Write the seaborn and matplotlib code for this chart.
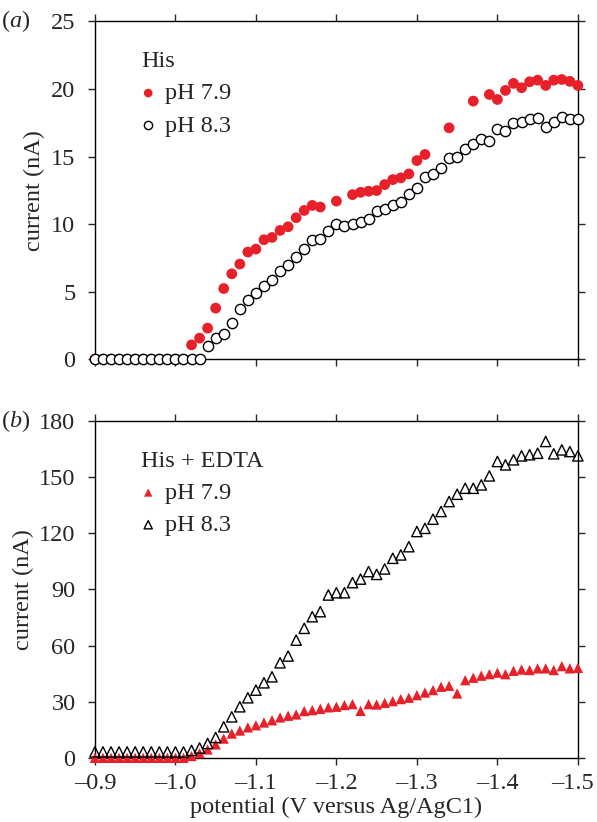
import numpy as np
import matplotlib
matplotlib.use('Agg')
import matplotlib.pyplot as plt
import matplotlib.transforms as mtransforms
import seaborn as sns

nan = np.nan

# potential grid (V versus Ag/AgCl), 10 mV steps
potential = np.round(np.arange(-0.90, -1.505, -0.01), 2)

# (a) His, current in nA
his_79 = [0, 0, 0, 0, 0, 0, 0, 0, 0, 0, 0, 0,
          1.06, 1.56, 2.3, 3.78, 5.23, 6.32, 7.04, 7.93, 8.15, 8.84,
          9.01, 9.53, 9.80, 10.47, 11.01, 11.38, 11.26, nan, 11.7, nan,
          12.18, 12.35, 12.43, 12.48, 12.92, 13.29, 13.42, 13.71, 14.70, 15.15,
          nan, nan, 17.12, nan, nan, 19.10, nan, 19.59, 19.22, 19.89,
          20.41, 20.09, 20.53, 20.65, 20.26, 20.65, 20.70, 20.56, 20.26]
his_83 = [0, 0, 0, 0, 0, 0, 0, 0, 0, 0, 0, 0, 0, 0,
          1.01, 1.60, 1.90, 2.67, 3.73, 4.40, 4.89, 5.41, 5.88, 6.54,
          6.99, 7.53, 8.12, 8.81, 8.86, 9.48, 10.02, 9.88, 10.03, 10.15,
          10.40, 10.94, 11.14, 11.42, 11.64, 12.23, 12.68, 13.49, 13.74, 14.16,
          14.90, 14.95, 15.52, 15.89, 16.26, 16.13, 17.07, 16.92, 17.49, 17.54,
          17.74, 17.86, 17.17, 17.54, 17.91, 17.81, 17.74]

# (b) His + EDTA, current in nA
edta_79 = [0, 0, 0, 0, 0, 0, 0, 0, 0, 0, 0, 0,
           1.0, 2.5, 4.5, 7.2, 10.3, 13.0, 14.6, 16.3, 17.4, 18.9,
           20.1, 21.6, 22.5, 23.2, 25.0, 25.5, 26.2, 27.0, 27.3, 28.2,
           28.7, 25.1, 28.7, 28.5, 29.4, 30.3, 31.4, 32.1, 33.5, 34.9,
           36.2, 38.0, 38.5, 34.4, 41.5, 42.8, 43.9, 44.7, 45.5, 44.7,
           46.5, 47.2, 46.9, 47.8, 47.8, 46.9, 49.0, 47.8, 48.1]
edta_83 = [3.2, 3.2, 3.2, 3.2, 3.2, 3.2, 3.2, 3.2, 3.2, 3.2, 3.2, 3.2,
           4.0, 5.3, 7.7, 10.9, 16.6, 21.9, 27.3, 32.1, 36.2, 40.1,
           43.3, 50.8, 54.4, 62.9, 69.2, 75.4, 78.1, 87.0, 88.2, 88.2,
           93.6, 95.5, 99.5, 98.0, 100.9, 106.6, 108.4, 112.8, 120.9, 122.6,
           127.5, 131.6, 136.9, 140.8, 144.0, 144.0, 145.8, 150.6, 158.3, 156.5,
           159.2, 161.3, 161.9, 162.7, 169.0, 162.4, 164.5, 163.6, 161.3]

x_ticks = [-0.9, -1.0, -1.1, -1.2, -1.3, -1.4, -1.5]
x_labels = ['\u20130.9', '\u20131.0', '\u20131.1', '\u20131.2',
            '\u20131.3', '\u20131.4', '\u20131.5']
red = '#e8202a'
fs = 17.5

sns.set_style('ticks')
plt.rcParams['font.family'] = ['Liberation Serif', 'DejaVu Serif']
plt.rcParams['mathtext.fontset'] = 'custom'
plt.rcParams['mathtext.rm'] = 'Liberation Serif'
plt.rcParams['mathtext.it'] = 'Liberation Serif:italic'
plt.rcParams['font.size'] = fs
plt.rcParams['axes.linewidth'] = 1.0

fig = plt.figure(figsize=(5.97, 8.22), dpi=100)
ax1 = fig.add_axes([0.159, 0.563, 0.809, 0.411])
ax2 = fig.add_axes([0.159, 0.078, 0.809, 0.410])

# top panel
sns.scatterplot(x=potential, y=his_79, ax=ax1, marker='o', color=red,
                s=60, edgecolor='none', label='pH 7.9', clip_on=False, zorder=3)
sns.scatterplot(x=potential, y=his_83, ax=ax1, marker='o', facecolors='white',
                edgecolor='black', linewidth=1.0, s=55, label='pH 8.3',
                clip_on=False, zorder=4)
ax1.set_ylim(0, 25)
ax1.set_yticks([0, 5, 10, 15, 20, 25])
ax1.set_ylabel('current (nA)', fontsize=fs, labelpad=4)

# bottom panel
sns.scatterplot(x=potential, y=edta_79, ax=ax2, marker='^', color=red,
                s=55, edgecolor='none', label='pH 7.9', clip_on=False, zorder=3)
sns.scatterplot(x=potential, y=edta_83, ax=ax2, marker='^', facecolors='none',
                edgecolor='black', linewidth=1.0, s=55, label='pH 8.3',
                clip_on=False, zorder=4)
ax2.set_ylim(0, 180)
ax2.set_yticks([0, 30, 60, 90, 120, 150, 180])
ax2.set_ylabel('current (nA)', fontsize=fs, labelpad=4)
ax2.set_xlabel('potential (V versus Ag/AgC1)', fontsize=fs, labelpad=2)

for ax, title, tag in [(ax1, 'His', r'($\mathit{a}$)'),
                       (ax2, 'His + EDTA', r'($\mathit{b}$)')]:
    ax.set_xlim(-0.9, -1.5)
    ax.set_xticks(x_ticks)
    ax.tick_params(direction='out', top=True, right=True, length=5,
                   width=1.0, labelsize=fs)
    ax.tick_params(axis='y', pad=9)
    ax.tick_params(axis='x', pad=6)
    for sp in ax.spines.values():
        sp.set_visible(True)
        sp.set_color('black')
    ax.legend(title=title, loc='upper left', bbox_to_anchor=(0.06, 0.962),
              frameon=False, handlelength=0.6, handletextpad=0.4,
              labelspacing=0.42, markerscale=0.8, fontsize=fs,
              title_fontsize=fs, alignment='left', borderpad=0.2)
    ax.text(-0.165, 1.0, tag, transform=ax.transAxes, ha='center',
            va='center', fontsize=fs)

ax1.set_xticklabels([])
ax1.set_xlabel('')
ax2.set_xticklabels(x_labels)
# nudge the last tick label so it stays inside the figure edge
last = ax2.get_xticklabels()[-1]
last.set_transform(last.get_transform() +
                   mtransforms.ScaledTranslation(-4 / 72, 0, fig.dpi_scale_trans))

fig.savefig('out.png', dpi=100)
